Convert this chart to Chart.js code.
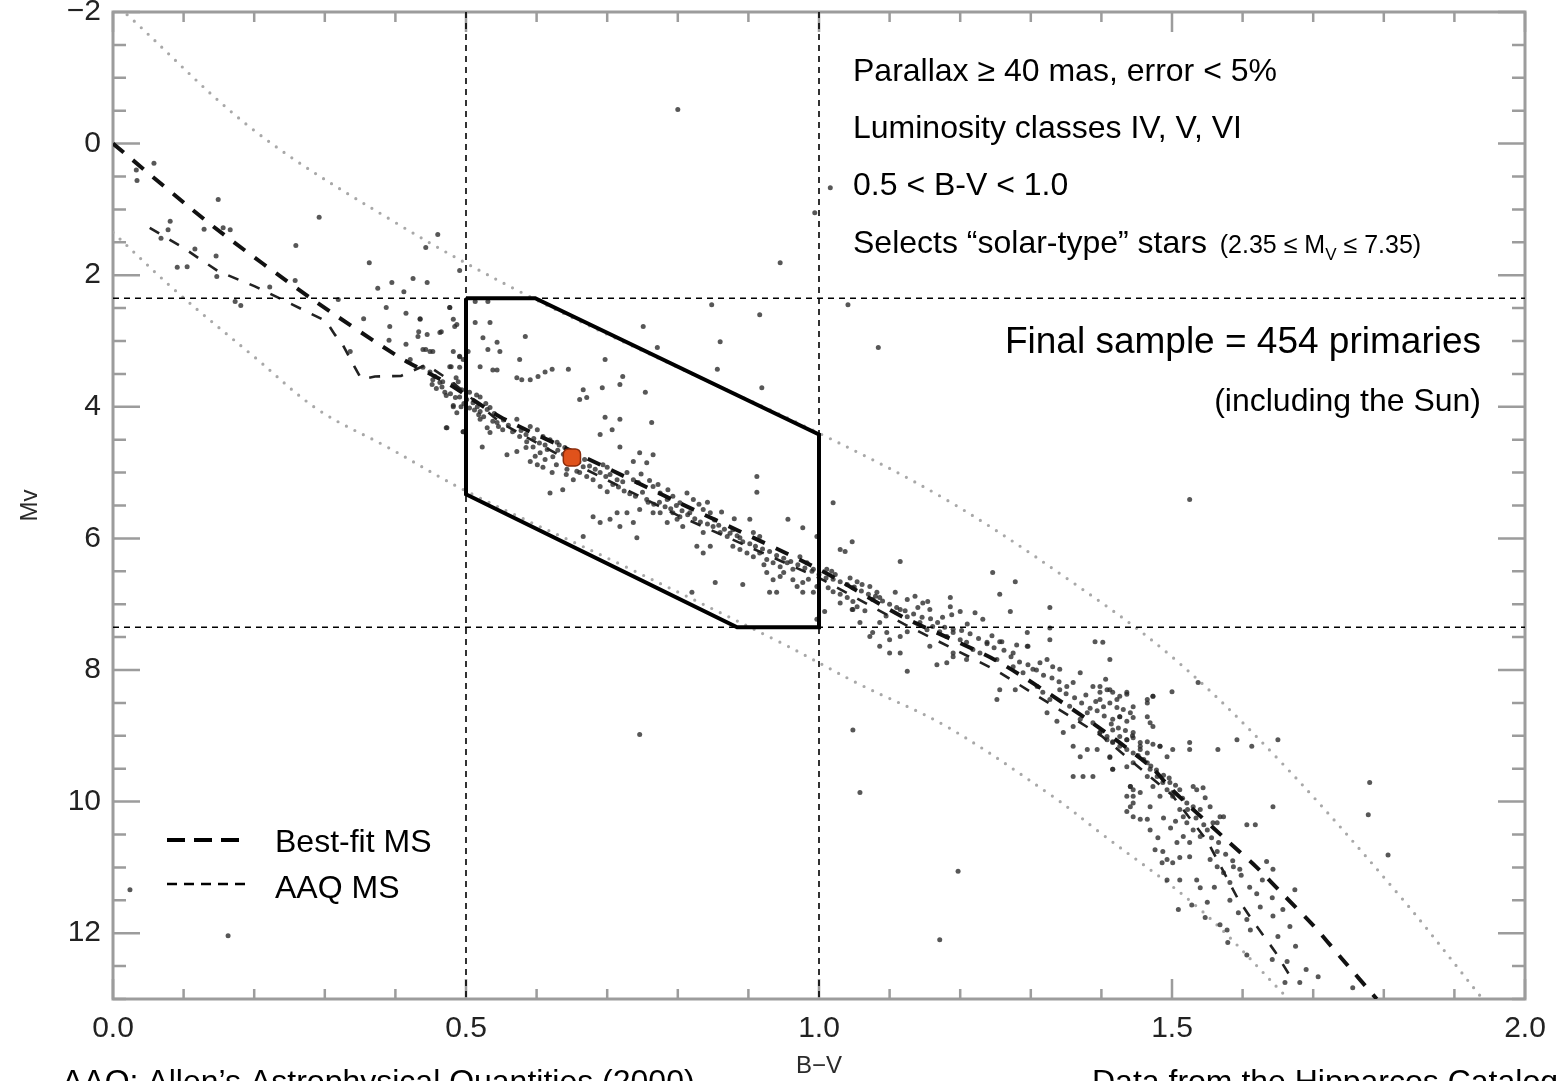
<!doctype html>
<html>
<head>
<meta charset="utf-8">
<title>HR diagram - solar-type sample</title>
<script src="https://cdn.jsdelivr.net/npm/chart.js@4.4.1/dist/chart.umd.min.js"></script>
<style>
  html, body { margin: 0; padding: 0; background: #fff; }
  #wrap { width: 1560px; height: 1081px; position: relative; }
</style>
</head>
<body>
<div id="wrap"><canvas id="hrChart"></canvas></div>
<script>
// ---- data (B-V, Mv) ----
const stars = [
  // upper left, above the MS
  [0.033,0.40],[0.034,0.56],[0.058,0.30],[0.149,0.85],[0.081,1.18],[0.078,1.31],[0.068,1.44],[0.129,1.30],
  [0.156,1.28],[0.166,1.31],[0.292,1.12],[0.259,1.55],[0.116,1.60],[0.146,1.71],[0.091,1.88],[0.105,1.87],
  [0.147,2.02],[0.363,1.81],[0.460,1.38],[0.443,1.58],[0.491,1.93],[0.258,2.08],[0.222,2.18],[0.173,2.40],
  [0.181,2.46],[0.319,2.37],[0.375,2.20],[0.395,2.11],[0.425,2.05],[0.445,2.11],[0.412,2.25],[0.387,2.49],
  [0.415,2.58],[0.355,2.66],[0.435,2.66],[0.392,2.78],[0.391,2.99],[0.465,2.86],[0.477,2.49],[0.482,2.67],
  [0.484,2.78],[0.336,3.16],[0.433,2.86],[0.432,2.93],[0.443,3.13],[0.453,3.16],[0.415,3.05],[0.421,3.28],
  [0.479,3.39],[0.491,3.23],[0.472,3.83],[0.482,3.98],[0.493,4.00],[0.472,4.32],[0.496,4.38],[0.486,3.56],
  [0.489,3.62],[0.520,3.85],
  // inside the selection box
  [0.513,2.40],[0.531,2.40],[0.477,2.49],[0.487,2.75],[0.513,2.72],[0.534,2.72],[0.524,2.95],[0.544,3.02],
  [0.548,3.16],[0.531,3.13],[0.584,2.93],[0.576,3.28],[0.503,3.16],[0.491,3.24],[0.477,3.39],[0.491,3.40],
  [0.520,3.39],[0.538,3.44],[0.544,3.44],[0.572,3.56],[0.579,3.59],[0.591,3.59],[0.602,3.54],[0.612,3.47],
  [0.622,3.43],[0.645,3.43],[0.697,3.28],[0.722,3.54],[0.718,3.66],[0.693,3.71],[0.666,3.74],[0.671,3.86],
  [0.661,3.89],[0.751,2.78],[0.771,3.10],[0.856,3.43],[0.860,3.01],[0.848,2.45],[0.916,2.60],[0.919,3.71],
  [0.754,3.78],[0.707,4.35],[0.718,4.19],[0.697,4.16],[0.690,4.42],[0.718,4.61],[0.763,4.24],[0.746,4.70],
  [0.765,4.73],[0.756,4.85],[0.737,4.83],[0.728,5.00],[0.737,5.11],[0.744,5.15],[0.694,4.88],[0.700,4.92],
  [0.704,5.03],[0.714,5.11],[0.722,5.14],[0.680,5.11],[0.690,5.21],[0.700,5.29],[0.666,4.91],[0.671,5.06],
  [0.657,4.98],[0.591,4.30],[0.601,4.35],[0.609,4.45],[0.619,4.50],[0.629,4.54],[0.576,4.45],[0.586,4.53],
  [0.595,4.61],[0.605,4.70],[0.615,4.65],[0.623,4.76],[0.558,4.73],[0.572,4.68],[0.591,4.83],[0.601,4.88],
  [0.609,4.92],[0.622,5.00],[0.520,4.19],[0.530,4.32],[0.544,4.24],[0.552,4.35],[0.523,4.61],[0.534,4.39],
  [0.496,4.38],[0.473,4.32],[0.516,4.00],[0.520,4.07],[0.530,4.04],[0.534,4.01],[0.491,3.85],[0.501,3.89],
  [0.510,3.94],[0.482,4.00],[0.487,4.09],[0.463,3.63],[0.453,3.59],[0.439,3.40],[0.449,3.47],[0.572,4.19],
  [0.661,5.00],[0.652,5.11],[0.643,4.95],[0.637,5.26],[0.619,5.31],[0.666,5.97],[0.765,5.21],[0.775,5.31],
  [0.785,5.41],[0.793,5.36],[0.803,5.46],[0.813,5.31],[0.822,5.41],[0.775,5.61],[0.785,5.76],[0.799,5.71],
  [0.807,5.82],[0.817,5.61],[0.714,5.61],[0.728,5.61],[0.737,5.76],[0.742,5.99],[0.704,5.71],[0.718,5.82],
  [0.746,5.56],[0.756,5.41],[0.765,5.61],[0.836,5.56],[0.846,5.61],[0.850,5.82],[0.860,5.91],[0.870,5.97],
  [0.878,5.87],[0.888,5.99],[0.836,5.91],[0.827,6.12],[0.836,6.22],[0.846,6.12],[0.793,5.61],[0.803,5.67],
  [0.878,6.12],[0.888,6.17],[0.898,6.22],[0.907,6.28],[0.916,6.22],[0.926,6.32],[0.935,6.37],[0.945,6.43],
  [0.955,6.37],[0.963,6.47],[0.973,6.28],[0.983,6.37],[0.992,6.47],[0.907,5.91],[0.916,5.97],[0.926,6.52],
  [0.935,6.63],[0.945,6.58],[0.963,6.63],[0.977,6.67],[0.997,6.73],[0.930,6.82],[0.940,6.82],[0.969,6.73],
  [0.977,6.82],[0.992,6.82],[0.997,7.23],[0.902,5.71],[0.912,5.30],[0.912,5.06],[0.956,5.71],[0.977,5.84],
  [0.997,5.97],[0.853,6.67],[0.892,6.70],[0.820,6.82],[0.680,5.67],[0.690,5.76],[1.008,7.11],[0.435,2.67],
  [0.445,2.90],[0.439,3.13],[0.449,3.16],[0.463,2.87],[0.482,3.16],[0.496,3.28],[0.456,3.54],[0.467,3.62],
  [0.482,3.66],[0.494,3.74],
  // dense ridge, 0.45 - 1.1
  [0.452,3.66],[0.458,3.72],[0.466,3.70],[0.470,3.78],[0.478,3.80],[0.485,3.86],[0.497,3.95],[0.505,4.02],
  [0.512,4.05],[0.518,4.12],[0.525,4.15],[0.538,4.22],[0.546,4.30],[0.505,3.78],[0.515,3.82],[0.528,3.95],
  [0.540,4.10],[0.553,4.20],[0.560,4.28],[0.566,4.38],[0.578,4.36],[0.585,4.42],[0.596,4.48],[0.604,4.55],
  [0.612,4.58],[0.630,4.66],[0.638,4.72],[0.646,4.80],[0.660,4.84],[0.668,4.80],[0.675,4.90],[0.683,4.95],
  [0.690,5.00],[0.698,5.06],[0.632,4.58],[0.640,4.62],[0.655,4.70],[0.585,4.62],[0.598,4.75],[0.612,4.80],
  [0.628,4.88],[0.642,5.03],[0.708,5.18],[0.716,5.22],[0.724,5.28],[0.732,5.32],[0.740,5.36],[0.750,5.30],
  [0.758,5.45],[0.766,5.48],[0.774,5.45],[0.782,5.52],[0.790,5.55],[0.798,5.50],[0.806,5.58],[0.814,5.64],
  [0.824,5.70],[0.832,5.75],[0.842,5.78],[0.852,5.72],[0.858,5.80],[0.866,5.86],[0.874,5.92],[0.884,5.96],
  [0.892,6.05],[0.748,5.02],[0.760,5.12],[0.772,5.18],[0.786,5.26],[0.830,5.48],[0.842,5.45],[0.862,5.60],
  [0.880,5.70],[0.902,6.08],[0.910,6.12],[0.920,6.16],[0.930,6.20],[0.940,6.26],[0.950,6.30],[0.960,6.35],
  [0.970,6.40],[0.980,6.45],[0.990,6.50],[1.000,6.55],[1.010,6.60],[1.020,6.62],[1.030,6.66],[1.040,6.70],
  [1.050,6.74],[1.060,6.80],[1.070,6.85],[1.080,6.88],[1.090,6.95],[1.100,7.00],[0.922,6.40],[0.950,6.52],
  [0.985,6.62],[1.030,6.98],[1.065,7.10],[1.095,7.18],
  // 1.0 - 1.5
  [1.020,5.46],[1.047,6.05],[1.030,6.17],[1.037,6.20],[1.115,6.35],[1.011,6.47],[1.018,6.50],[1.023,6.55],
  [1.044,6.60],[1.054,6.66],[1.061,6.70],[1.048,6.75],[1.013,6.75],[1.020,6.81],[1.030,6.85],[1.072,6.73],
  [1.082,6.82],[1.086,6.90],[1.076,6.93],[1.040,6.90],[1.048,6.96],[1.054,7.04],[1.047,7.08],[1.108,6.82],
  [1.125,6.93],[1.115,7.08],[1.125,7.19],[1.136,6.88],[1.147,6.98],[1.157,7.08],[1.154,6.96],[1.186,6.90],
  [1.186,7.04],[1.188,7.16],[1.200,7.11],[1.221,7.13],[1.232,7.23],[1.271,7.11],[1.327,7.05],[1.246,6.52],
  [1.256,6.85],[1.278,6.66],[1.086,7.28],[1.096,7.43],[1.100,7.54],[1.115,7.49],[1.125,7.42],[1.072,7.49],
  [1.086,7.64],[1.100,7.74],[1.115,7.74],[1.143,7.28],[1.153,7.39],[1.161,7.34],[1.171,7.42],[1.181,7.49],
  [1.190,7.43],[1.200,7.54],[1.209,7.58],[1.218,7.69],[1.228,7.74],[1.157,7.64],[1.167,7.92],[1.125,8.02],
  [1.190,7.74],[1.209,7.84],[1.238,7.58],[1.256,7.57],[1.275,7.74],[1.295,7.64],[1.252,7.84],[1.275,7.95],
  [1.289,8.04],[1.303,7.99],[1.313,7.89],[1.323,7.84],[1.331,7.95],[1.341,7.99],[1.256,8.30],[1.252,8.45],
  [1.278,8.30],[1.309,8.25],[1.317,8.34],[1.327,8.45],[1.341,8.30],[1.351,8.25],[1.360,8.19],[1.370,8.04],
  [1.388,8.25],[1.398,8.34],[1.412,8.30],[1.422,8.45],[1.436,8.34],[1.323,8.65],[1.337,8.78],[1.346,8.95],
  [1.360,8.86],[1.370,8.75],[1.380,8.65],[1.388,8.80],[1.398,8.95],[1.408,9.06],[1.416,8.91],[1.426,8.71],
  [1.445,8.56],[1.465,8.50],[1.473,8.40],[1.416,9.10],[1.436,9.06],[1.445,8.95],[1.455,9.16],[1.465,9.26],
  [1.483,9.16],[1.493,9.32],[1.360,9.16],[1.370,9.32],[1.380,9.21],[1.394,9.21],[1.412,9.32],[1.416,9.51],
  [1.436,9.47],[1.445,9.41],[1.360,9.62],[1.374,9.62],[1.388,9.62],[1.441,9.77],[1.465,9.62],[1.473,9.77],
  [1.483,9.92],[1.497,9.71],[1.501,9.86],[1.048,8.91],[1.058,9.86],[1.412,7.84],[1.500,8.33],[1.436,9.92],
  [1.445,9.82],[1.048,7.08],[1.058,7.28],[1.076,7.43],[1.181,7.89],[1.190,7.80],[1.259,7.57],[1.295,7.43],
  [1.296,7.64],[1.327,7.36],[1.327,7.54],[1.391,7.57],[1.402,7.58],
  [1.110,7.05],[1.122,7.10],[1.134,7.15],[1.146,7.20],[1.158,7.22],[1.168,7.28],[1.178,7.35],[1.190,7.38],
  [1.202,7.40],[1.214,7.45],[1.226,7.52],[1.238,7.60],[1.248,7.66],[1.262,7.70],[1.272,7.80],[1.284,7.88],
  [1.296,7.92],[1.140,7.05],[1.175,7.20],[1.210,7.30],[1.245,7.48],[1.280,7.62],[1.308,8.00],[1.318,8.08],
  [1.330,8.12],[1.340,8.18],[1.350,8.36],[1.362,8.42],[1.372,8.50],[1.384,8.58],[1.394,8.62],[1.404,8.70],
  [1.414,8.82],[1.424,8.88],[1.434,8.92],[1.444,9.00],[1.355,8.55],[1.378,8.38],[1.392,8.48],[1.406,8.14],
  // red end
  [1.537,8.19],[1.398,8.25],[1.408,8.30],[1.416,8.34],[1.426,8.40],[1.436,8.37],[1.412,8.50],[1.422,8.57],
  [1.431,8.60],[1.441,8.65],[1.426,8.71],[1.416,8.75],[1.436,8.78],[1.445,8.72],[1.398,8.45],[1.403,8.56],
  [1.465,8.45],[1.473,8.40],[1.465,8.71],[1.469,8.80],[1.473,8.86],[1.398,8.95],[1.408,9.01],[1.416,9.09],
  [1.426,9.16],[1.436,9.21],[1.445,9.26],[1.455,9.21],[1.426,9.01],[1.436,9.06],[1.445,9.03],[1.455,9.10],
  [1.465,9.09],[1.473,9.13],[1.483,9.16],[1.501,9.21],[1.525,9.10],[1.525,9.21],[1.565,9.21],[1.592,9.06],
  [1.613,9.16],[1.650,9.06],[1.412,9.33],[1.416,9.51],[1.441,9.77],[1.445,9.92],[1.436,10.15],[1.445,10.23],
  [1.455,10.27],[1.465,9.41],[1.469,9.51],[1.479,9.62],[1.487,9.71],[1.493,9.82],[1.501,9.92],[1.511,9.82],
  [1.521,10.02],[1.530,10.08],[1.540,10.12],[1.511,10.12],[1.516,10.23],[1.521,10.32],[1.530,10.43],[1.540,10.53],
  [1.550,10.43],[1.558,10.32],[1.568,10.23],[1.516,10.53],[1.507,10.62],[1.525,10.62],[1.455,9.86],[1.445,10.02],
  [1.469,10.08],[1.465,10.27],[1.469,10.43],[1.480,10.55],[1.476,10.73],[1.487,10.76],[1.493,10.88],[1.486,10.93],
  [1.501,10.93],[1.511,10.85],[1.525,10.84],[1.493,11.19],[1.511,11.19],[1.535,11.19],[1.540,11.31],[1.509,11.64],
  [1.528,11.57],[1.547,11.76],[1.550,11.53],[1.564,10.76],[1.554,10.88],[1.564,10.99],[1.573,11.08],[1.582,11.23],
  [1.587,10.99],[1.596,11.03],[1.606,10.35],[1.618,10.35],[1.634,10.91],[1.643,11.03],[1.628,11.19],[1.642,11.46],
  [1.643,11.74],[1.657,11.64],[1.674,11.34],[1.667,11.90],[1.663,12.43],[1.642,12.40],[1.568,11.87],[1.578,11.95],
  [1.579,12.14],[1.594,11.69],[1.606,11.79],[1.611,11.95],[1.660,12.75],[1.681,12.75],[1.707,12.66],[1.756,12.83],
  [1.780,9.71],[1.778,10.20],[1.806,10.81],[1.643,10.08],[1.606,12.33],[1.530,9.77],[1.535,9.82],[1.544,9.79],
  [1.547,9.94],[1.554,10.08],[1.564,10.32],[1.573,10.23],[1.441,10.08],
  [1.452,9.30],[1.460,9.36],[1.470,9.46],[1.478,9.52],[1.488,9.60],[1.496,9.64],[1.505,9.75],[1.515,9.95],
  [1.522,10.12],[1.534,10.25],[1.545,10.35],[1.556,10.55],[1.566,10.62],[1.576,10.80],[1.586,10.90],[1.598,11.12],
  [1.610,11.30],[1.620,11.40],[1.488,10.25],[1.498,10.40],[1.505,10.30],[1.560,11.30],[1.582,11.50],[1.625,11.60],
  [1.650,12.05],[1.675,12.20],[1.690,12.55],
  // scattered outliers
  [0.800,-0.52],[1.016,0.67],[0.994,1.05],[0.945,1.81],[1.041,2.45],[1.084,3.10],[1.525,5.41],[0.746,8.98],
  [1.197,11.06],[1.171,12.10],[0.163,12.04],[0.024,11.34]
];

const sunBV = 0.65, sunMv = 4.77;

// envelope curves (grey dotted)
const upperBV = [0.02, 0.2, 0.4, 0.58, 0.8, 1.0, 1.18, 1.35, 1.5, 1.65, 1.82, 1.94];
const upperMv = [-1.96, -0.2, 1.2, 2.27, 3.4, 4.4, 5.41, 6.6, 7.8, 9.35, 11.4, 13.0];
const lowerBV = [0.0, 0.09, 0.2, 0.29, 0.39, 0.5, 0.72, 0.945, 1.058, 1.181, 1.331, 1.398, 1.54, 1.665];
const lowerMv = [1.35, 2.25, 3.24, 4.04, 4.62, 5.28, 6.4, 7.58, 8.22, 8.86, 9.92, 10.47, 11.64, 13.0];

// main sequence curves
const bestFitBV = [0.0, 0.142, 0.283, 0.406, 0.472, 0.548, 0.661, 0.8, 1.0, 1.12, 1.25, 1.38, 1.47, 1.5, 1.58, 1.62, 1.66, 1.70, 1.74, 1.79];
const bestFitMv = [0.0, 1.26, 2.37, 3.25, 3.63, 4.15, 4.73, 5.45, 6.47, 7.2, 7.85, 8.75, 9.47, 9.82, 10.61, 11.0, 11.44, 11.88, 12.38, 13.0];
const aaqBV = [0.052, 0.099, 0.149, 0.201, 0.255, 0.302, 0.314, 0.325, 0.342, 0.352, 0.371, 0.408, 0.444, 0.48, 0.55, 0.66, 0.8, 1.0, 1.12, 1.25, 1.4, 1.5, 1.55, 1.594, 1.615, 1.646, 1.67];
const aaqMv = [1.28, 1.58, 1.94, 2.17, 2.45, 2.70, 2.90, 3.05, 3.39, 3.58, 3.54, 3.53, 3.36, 3.62, 4.25, 4.9, 5.65, 6.6, 7.3, 8.0, 9.0, 9.9, 10.6, 11.49, 11.82, 12.28, 12.7];

// selection box and cut lines
const boxBV = [0.5, 0.598, 1.0, 1.0, 0.884, 0.5, 0.5];
const boxMv = [2.35, 2.35, 4.42, 7.35, 7.35, 5.33, 2.35];
const cutBV = [0.5, 1.0];
const cutMv = [2.35, 7.35];

const xTicks = [0, 0.5, 1.0, 1.5, 2.0];
const yTicks = [-2, 0, 2, 4, 6, 8, 10, 12];

const FONT = '"Liberation Sans", Arial, Helvetica, sans-serif';

function pts(xs, ys) { return xs.map(function (v, i) { return {x: v, y: ys[i]}; }); }

// frame + inward ticks on four sides (IDL look)
const frameTicks = {
  id: 'frameTicks',
  beforeDatasetsDraw(chart) {
    const ctx = chart.ctx, a = chart.chartArea, x = chart.scales.x, y = chart.scales.y;
    ctx.save();
    ctx.strokeStyle = '#9c9c9c';
    ctx.lineWidth = 3;
    ctx.strokeRect(a.left, a.top, a.right - a.left, a.bottom - a.top);
    ctx.lineWidth = 2.5;
    ctx.beginPath();
    for (let i = 0; i <= 20; i++) {
      const px = x.getPixelForValue(i / 10);
      const len = i % 5 === 0 ? 20 : 10;
      ctx.moveTo(px, a.bottom); ctx.lineTo(px, a.bottom - len);
      ctx.moveTo(px, a.top); ctx.lineTo(px, a.top + len);
    }
    for (let i = 0; i <= 30; i++) {
      const v = -2 + i * 0.5;
      const py = y.getPixelForValue(v);
      const len = (i % 4 === 0) ? 27 : 13;
      ctx.moveTo(a.left, py); ctx.lineTo(a.left + len, py);
      ctx.moveTo(a.right, py); ctx.lineTo(a.right - len, py);
    }
    ctx.stroke();
    ctx.restore();
  }
};

// annotation texts and the hand legend
const notes = {
  id: 'notes',
  afterDraw(chart) {
    const ctx = chart.ctx;
    ctx.save();
    ctx.fillStyle = '#000';
    ctx.textBaseline = 'alphabetic';
    ctx.textAlign = 'left';
    ctx.font = '32px ' + FONT;
    ctx.fillText('Parallax \u2265 40 mas, error < 5%', 853, 81);
    ctx.fillText('Luminosity classes IV, V, VI', 853, 138);
    ctx.fillText('0.5 < B-V < 1.0', 853, 195);
    const s1 = 'Selects \u201csolar-type\u201d stars ';
    ctx.fillText(s1, 853, 253);
    let cx = 853 + ctx.measureText(s1).width + 4;
    ctx.font = '25px ' + FONT;
    ctx.fillText('(2.35 \u2264 M', cx, 253);
    cx += ctx.measureText('(2.35 \u2264 M').width;
    ctx.font = '17px ' + FONT;
    ctx.fillText('V', cx, 260);
    cx += ctx.measureText('V').width;
    ctx.font = '25px ' + FONT;
    ctx.fillText(' \u2264 7.35)', cx, 253);

    ctx.textAlign = 'right';
    ctx.font = '37px ' + FONT;
    ctx.fillText('Final sample = 454 primaries', 1481, 353);
    ctx.font = '32px ' + FONT;
    ctx.fillText('(including the Sun)', 1481, 411);

    // legend
    ctx.textAlign = 'left';
    ctx.strokeStyle = '#000';
    ctx.lineWidth = 4;
    ctx.setLineDash([18, 9]);
    ctx.beginPath(); ctx.moveTo(167, 840); ctx.lineTo(240, 840); ctx.stroke();
    ctx.lineWidth = 2.5;
    ctx.setLineDash([10, 7]);
    ctx.beginPath(); ctx.moveTo(167, 884); ctx.lineTo(246, 884); ctx.stroke();
    ctx.setLineDash([]);
    ctx.font = '32px ' + FONT;
    ctx.fillText('Best-fit MS', 275, 852);
    ctx.fillText('AAQ MS', 275, 898);

    // footer notes, cut by the bottom edge like the source slide
    ctx.fillText('AAQ: Allen\u2019s Astrophysical Quantities (2000)', 62, 1092);
    ctx.fillText('Data from the Hipparcos Catalog', 1092, 1092);
    ctx.restore();
  }
};

const cutStyle = {type: 'line', showLine: true, borderColor: '#000', borderWidth: 1.6, borderDash: [6, 5], pointRadius: 0, order: 2};

const datasets = [
  {type: 'scatter', label: 'Sun', data: [{x: sunBV, y: sunMv}], pointStyle: 'rectRounded', pointRadius: 10,
   backgroundColor: '#e0521b', borderColor: '#8c2b0a', borderWidth: 1.5, order: 0},
  {type: 'line', label: 'box', data: pts(boxBV, boxMv), borderColor: '#000', borderWidth: 4, pointRadius: 0,
   tension: 0, borderJoinStyle: 'miter', order: 1},
  Object.assign({label: 'cut x1', data: pts([cutBV[0], cutBV[0]], [-2, 13])}, cutStyle),
  Object.assign({label: 'cut x2', data: pts([cutBV[1], cutBV[1]], [-2, 13])}, cutStyle),
  Object.assign({label: 'cut y1', data: pts([0, 2], [cutMv[0], cutMv[0]])}, cutStyle),
  Object.assign({label: 'cut y2', data: pts([0, 2], [cutMv[1], cutMv[1]])}, cutStyle),
  {type: 'line', label: 'Best-fit MS', data: pts(bestFitBV, bestFitMv), borderColor: '#111', borderWidth: 4,
   borderDash: [14, 12], pointRadius: 0, tension: 0.25, order: 3},
  {type: 'line', label: 'AAQ MS', data: pts(aaqBV, aaqMv), borderColor: '#222', borderWidth: 2.6,
   borderDash: [11, 12], pointRadius: 0, tension: 0, order: 3},
  {type: 'scatter', label: 'stars', data: stars.map(function (p) { return {x: p[0], y: p[1]}; }),
   pointRadius: 2.5, backgroundColor: 'rgba(40,40,40,0.78)', borderWidth: 0, order: 4},
  {type: 'line', label: 'upper', data: pts(upperBV, upperMv), borderColor: '#a8a8a8', borderWidth: 3.2,
   borderDash: [0, 9.5], borderCapStyle: 'round', pointRadius: 0, tension: 0.35, order: 5},
  {type: 'line', label: 'lower', data: pts(lowerBV, lowerMv), borderColor: '#a8a8a8', borderWidth: 3.2,
   borderDash: [0, 9.5], borderCapStyle: 'round', pointRadius: 0, tension: 0.35, order: 5}
];

const hrChart = new Chart(document.getElementById('hrChart'), {
  type: 'scatter',
  data: {datasets: datasets},
  options: {
    responsive: true,
    maintainAspectRatio: false,
    animation: false,
    events: [],
    layout: {padding: {top: 12, right: 35, bottom: 0, left: 0}},
    plugins: {legend: {display: false}, tooltip: {enabled: false}},
    scales: {
      x: {
        type: 'linear', min: 0, max: 2,
        grid: {display: false, drawTicks: false},
        border: {display: false},
        afterBuildTicks: function (s) { s.ticks = xTicks.map(function (v) { return {value: v}; }); },
        ticks: {autoSkip: false, maxRotation: 0, padding: 12, color: '#222',
                font: {size: 30, family: FONT},
                callback: function (v) { return Number(v).toFixed(1); }},
        title: {display: true, text: 'B\u2212V', color: '#2a2a2a', font: {size: 24, family: FONT},
                padding: {top: 0, bottom: 0}},
        afterFit: function (s) { s.height = 82; s.paddingLeft = 0; s.paddingRight = 0; }
      },
      y: {
        type: 'linear', reverse: true, min: -2, max: 13,
        grid: {display: false, drawTicks: false},
        border: {display: false},
        afterBuildTicks: function (s) { s.ticks = yTicks.map(function (v) { return {value: v}; }); },
        ticks: {autoSkip: false, padding: 12, color: '#222', font: {size: 30, family: FONT},
                callback: function (v) { return v < 0 ? '\u2212' + Math.abs(v) : String(v); }},
        title: {display: true, text: 'Mv', color: '#2a2a2a', font: {size: 24, family: FONT},
                padding: {top: 16, bottom: 0}},
        afterFit: function (s) { s.width = 113; s.paddingTop = 0; s.paddingBottom = 0; }
      }
    }
  },
  plugins: [frameTicks, notes]
});
</script>
</body>
</html>
